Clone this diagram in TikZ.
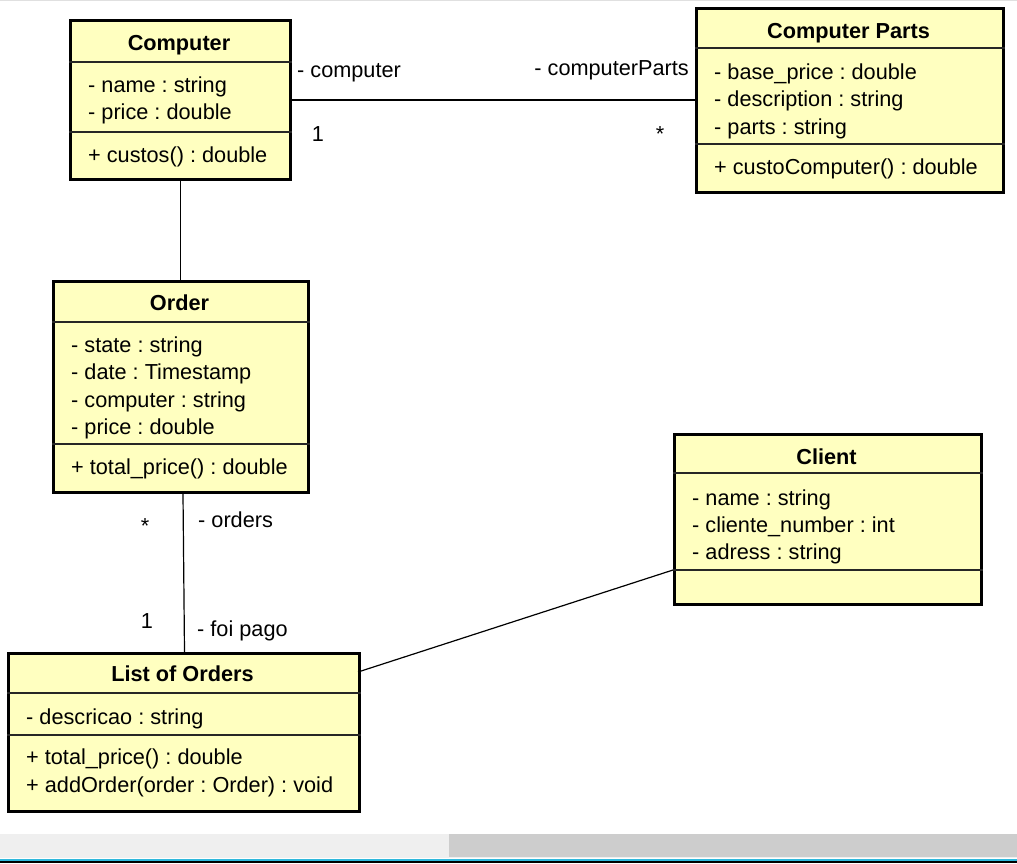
\documentclass[tikz,border=0pt]{standalone}
\usepackage{fontspec}
\setmainfont{Liberation Sans}
\usetikzlibrary{calc}
\frenchspacing
\definecolor{umlfill}{HTML}{FFFFC0}
\definecolor{barlight}{HTML}{EFEFEF}
\definecolor{bardark}{HTML}{CDCDCD}
\definecolor{edgecyan}{HTML}{2FB8DC}
\tikzset{
  x=1pt, y=-1pt,
  umlbox/.style={draw=black, line width=3pt, fill=umlfill, rectangle, inner sep=0pt},
  umlsep/.style={draw=black!85, line width=1.2pt},
  title/.style={font=\fontsize{21.7}{25}\selectfont\bfseries, anchor=base, inner sep=0pt},
  member/.style={font=\fontsize{21.7}{25}\selectfont, anchor=base west, inner sep=0pt},
  rolelabel/.style={font=\fontsize{21.7}{25}\selectfont, inner sep=0pt},
  assoc/.style={draw=black, line width=1.2pt},
}
% box helper: name, left, top, right, bottom
\newcommand{\umlclass}[5]{%
  \node[umlbox, minimum width=#4-#2, minimum height=#5-#3, anchor=north west] (#1) at (#2,#3) {};}
\begin{document}
\begin{tikzpicture}
\useasboundingbox (0,0) rectangle (1017,863);
\fill[white] (0,0) rectangle (1017,863);
\draw[black!12, line width=1pt] (0,0.5) -- (1017,0.5);

% ---------- Computer ----------
\umlclass{comp}{69}{19}{289}{178}
\draw[umlsep] (comp.west |- 0,62) -- (comp.east |- 0,62);
\draw[umlsep] (comp.west |- 0,132) -- (comp.east |- 0,132);
\node[title] (compT) at (179,50) {Computer};
\node[member] (compA1) at (88,92) {- name : string};
\node[member] (compA2) at (88,119) {- price : double};
\node[member] (compM1) at (88,162) {+ custos() : double};

% ---------- Computer Parts ----------
\umlclass{parts}{695}{7}{1002}{191}
\draw[umlsep] (parts.west |- 0,48) -- (parts.east |- 0,48);
\draw[umlsep] (parts.west |- 0,144) -- (parts.east |- 0,144);
\node[title] (partsT) at (848.5,38) {Computer Parts};
\node[member] (partsA1) at (714,79) {- base\_price : double};
\node[member] (partsA2) at (714,106) {- description : string};
\node[member] (partsA3) at (714,134) {- parts : string};
\node[member] (partsM1) at (714,174) {+ custoComputer() : double};

% ---------- Order ----------
\umlclass{order}{52}{280}{307}{491}
\draw[umlsep] (order.west |- 0,322) -- (order.east |- 0,322);
\draw[umlsep] (order.west |- 0,444) -- (order.east |- 0,444);
\node[title] (orderT) at (179.5,310) {Order};
\node[member] (orderA1) at (71,352) {- state : string};
\node[member] (orderA2) at (71,379) {- date : Timestamp};
\node[member] (orderA3) at (71,407) {- computer : string};
\node[member] (orderA4) at (71,434) {- price : double};
\node[member] (orderM1) at (71,474) {+ total\_price() : double};

% ---------- Client ----------
\umlclass{client}{673}{433}{980}{603}
\draw[umlsep] (client.west |- 0,473) -- (client.east |- 0,473);
\draw[umlsep] (client.west |- 0,570) -- (client.east |- 0,570);
\node[title] (clientT) at (826.5,464) {Client};
\node[member] (clientA1) at (692,505) {- name : string};
\node[member] (clientA2) at (692,532) {- cliente\_number : int};
\node[member] (clientA3) at (692,559) {- adress : string};

% ---------- List of Orders ----------
\umlclass{list}{7}{652}{358}{810}
\draw[umlsep] (list.west |- 0,693) -- (list.east |- 0,693);
\draw[umlsep] (list.west |- 0,735) -- (list.east |- 0,735);
\node[title] (listT) at (182.5,681) {List of Orders};
\node[member] (listA1) at (26,724) {- descricao : string};
\node[member] (listM1) at (26,764) {+ total\_price() : double};
\node[member] (listM2) at (26,792) {+ addOrder(order : Order) : void};

% ---------- associations ----------
\draw[assoc] (comp.east) -- (comp.east -| parts.west);
\draw[assoc] (comp.south) -- (comp.south |- order.north);
\draw[assoc] ($(order.south)+(2,0)$) -- ($(list.north)+(0.5,0)$);
\coordinate (clientEnd) at (673,570);
\coordinate (listEnd) at (358,672);
\draw[assoc] (clientEnd) -- (listEnd);

% role names and multiplicities
\node[rolelabel, anchor=base west] (lblComp) at (297,77) {- computer};
\node[rolelabel, anchor=base] (mulComp) at (318,141) {1};
\node[rolelabel, anchor=base east] (lblParts) at (689,75) {- computerParts};
\node[rolelabel, anchor=base] (mulParts) at (660,141) {*};
\node[rolelabel, anchor=base] (mulOrd) at (145,533) {*};
\node[rolelabel, anchor=base west] (lblOrd) at (198,527) {- orders};
\node[rolelabel, anchor=base] (mulList) at (147,628) {1};
\node[rolelabel, anchor=base west] (lblList) at (197,636) {- foi pago};

% ---------- window scrollbar ----------
\fill[barlight] (0,834) rectangle (1017,858);
\fill[bardark] (449,834) rectangle (1017,857);
\fill[edgecyan] (0,859) rectangle (1017,861);
\fill[black] (0,861) rectangle (1017,863);
\end{tikzpicture}
\end{document}
